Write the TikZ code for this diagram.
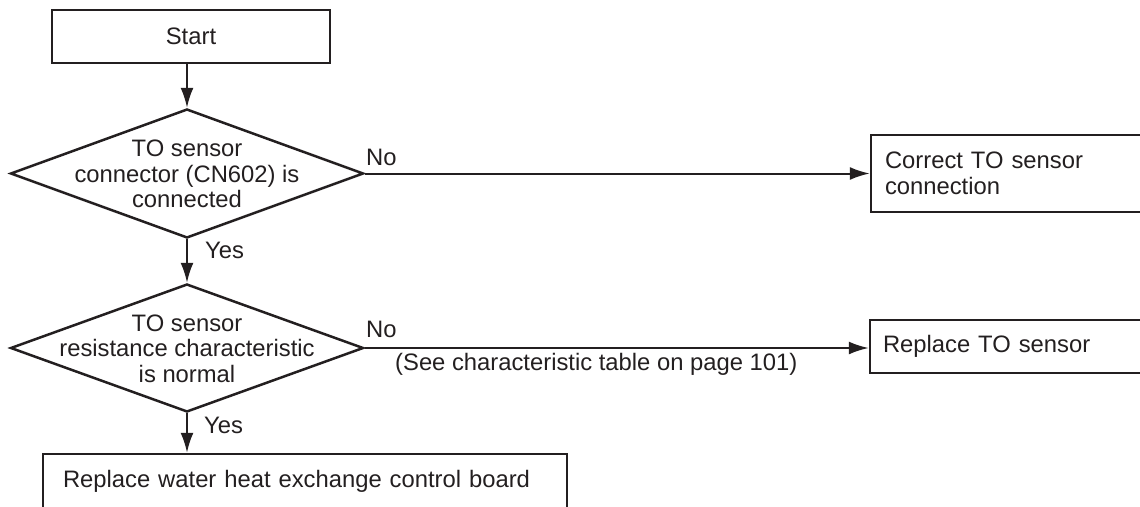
\documentclass[tikz,border=0pt]{standalone}
\usepackage{fontspec}
\setmainfont{Liberation Sans}
\usetikzlibrary{shapes.geometric,arrows.meta}
\definecolor{ink}{HTML}{231F20}
\begin{document}
\begin{tikzpicture}[x=1pt,y=-1pt,
  every node/.style={font=\fontsize{23.8pt}{25.5pt}\selectfont, text=ink},
  box/.style={draw=ink, line width=2.5pt, rectangle, inner sep=0pt},
  decision/.style={draw=ink, line width=2.5pt, diamond, inner sep=0pt, minimum width=353pt},
  flow/.style={draw=ink, line width=2pt, -{Latex[length=20pt,width=13pt]}},
  lbl/.style={anchor=base west, inner sep=0pt}
]
\useasboundingbox (0,0) rectangle (1140,506);
\clip (0,0) rectangle (1140,506);

\node[box, minimum width=278pt, minimum height=53pt] (start) at (191,36.5) {Start};

\node[decision, minimum height=129pt] (d1) at (187,173.5) {};
\node[align=center, inner sep=0pt] (t1) at (187,174) {TO sensor\\connector (CN602) is\\connected};

\node[decision, minimum height=128pt] (d2) at (187,348) {};
\node[align=center, inner sep=0pt] (t2) at (187,348.5) {TO sensor\\resistance characteristic\\is normal};

\node[box, minimum width=289pt, minimum height=77pt, align=left, text width=261pt, inner xsep=14pt] (b2) at (1015.5,173.5) {Correct TO sensor\\connection};

\node[box, minimum width=290pt, minimum height=53pt, align=left, text width=264pt, inner xsep=13pt] (b4) at (1015,346.5) {Replace TO sensor};

\node[box, minimum width=504pt, minimum height=54pt, align=left, text width=484pt, inner xsep=20pt] (b3) at (305,481) {Replace water heat exchange control board};

\draw[flow] (d1.north |- start.south) -- (d1.north);
\draw[flow] (d1.east) -- (d1.east -| b2.west);
\draw[flow] (d1.south) -- (d2.north);
\draw[flow] (d2.east) -- (d2.east -| b4.west);
\draw[flow] (d2.south) -- (d2.south |- b3.north);

\node[lbl] (no1) at (366,165) {No};
\node[lbl] (yes1) at (205,258) {Yes};
\node[lbl] (no2) at (366,337) {No};
\node[lbl] (see) at (395,370) {(See characteristic table on page 101)};
\node[lbl] (yes2) at (204,433) {Yes};
\end{tikzpicture}
\end{document}
